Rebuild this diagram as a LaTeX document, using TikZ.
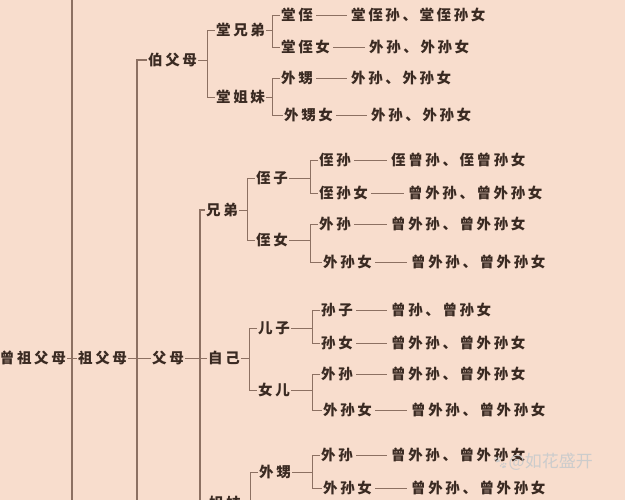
\documentclass[tikz,border=0pt]{standalone}
\usepackage{fontspec}
\newfontfamily\cjk[LetterSpace=18]{Noto Sans CJK SC}
\newfontfamily\markfont{Noto Sans CJK SC}
\newfontfamily\emojifont{Noto Emoji}
\usetikzlibrary{calc}

\definecolor{paper}{RGB}{248,221,205}
\definecolor{ink}{RGB}{58,42,34}
\definecolor{rule}{RGB}{140,112,98}

\tikzset{
  kin/.style={anchor=west,inner sep=1pt,text=ink,font=\cjk\bfseries\fontsize{14.5}{15}\selectfont},
  link/.style={draw=rule,line width=0.8pt},
  trunk/.style={draw=rule,line width=1.2pt},
  kinline/.style={draw=rule,line width=0.8pt,shorten <=2pt,shorten >=3pt},
}
% bracket from a parent to its two children
\newcommand\fork[3]{%
  \draw[link] (#2.west) -- ++(-8,0) coordinate (k) |- (#3.west);
  \draw[link] (#1.east) -- (#1.east -| k);}

\begin{document}
\begin{tikzpicture}[x=1pt,y=-1pt]
 \clip (0,0) rectangle (625,500);
 \fill[paper] (0,0) rectangle (625,500);

 % generations on the left
 \node[kin,anchor=east] (zzfm) at (67,358) {曾祖父母};
 \node[kin] (zfm) at (77,358)  {祖父母};
 \node[kin] (bfm) at (147,60)  {伯父母};
 \node[kin] (fm)  at (151,358) {父母};
 \node[kin] (xd)  at (205,210) {兄弟};
 \node[kin] (zj)  at (207,358) {自己};
 \node[kin] (jm)  at (208,503) {姐妹};

 % cousins
 \node[kin] (txd) at (215,30)  {堂兄弟};
 \node[kin] (tjm) at (215,97)  {堂姐妹};
 \node[kin] (tz)  at (280,15)  {堂侄};
 \node[kin] (tzn) at (280,47)  {堂侄女};
 \node[kin] (wsa) at (280,78)  {外甥};
 \node[kin] (wsna) at (283,115) {外甥女};

 % children of brothers, own children, children of sisters
 \node[kin] (zzi) at (255,178) {侄子};
 \node[kin] (znv) at (255,240) {侄女};
 \node[kin] (ez)  at (257,328) {儿子};
 \node[kin] (ne)  at (257,390) {女儿};
 \node[kin] (wsb) at (258,472) {外甥};

 % grandchildren
 \node[kin] (zs)   at (318,160) {侄孙};
 \node[kin] (zsn)  at (318,193) {侄孙女};
 \node[kin] (wsc)  at (318,224) {外孙};
 \node[kin] (wsnc) at (322,262) {外孙女};
 \node[kin] (sz)   at (320,310) {孙子};
 \node[kin] (sn)   at (320,343) {孙女};
 \node[kin] (wsd)  at (320,374) {外孙};
 \node[kin] (wsnd) at (322,410) {外孙女};
 \node[kin] (wse)  at (320,455) {外孙};
 \node[kin] (wsne) at (322,488) {外孙女};

 % next generation
 \node[kin] (r1)  at (350,15)  {堂侄孙、堂侄孙女};
 \node[kin] (r2)  at (368,47)  {外孙、外孙女};
 \node[kin] (r3)  at (350,78)  {外孙、外孙女};
 \node[kin] (r4)  at (370,115) {外孙、外孙女};
 \node[kin] (r5)  at (390,160) {侄曾孙、侄曾孙女};
 \node[kin] (r6)  at (407,193) {曾外孙、曾外孙女};
 \node[kin] (r7)  at (390,224) {曾外孙、曾外孙女};
 \node[kin] (r8)  at (410,262) {曾外孙、曾外孙女};
 \node[kin] (r9)  at (390,310) {曾孙、曾孙女};
 \node[kin] (r10) at (390,343) {曾外孙、曾外孙女};
 \node[kin] (r11) at (390,374) {曾外孙、曾外孙女};
 \node[kin] (r12) at (410,410) {曾外孙、曾外孙女};
 \node[kin] (r13) at (390,455) {曾外孙、曾外孙女};
 \node[kin] (r14) at (410,488) {曾外孙、曾外孙女};

 % long trunks
 \coordinate (ta) at (72,-5);
 \coordinate (tb) at (137,505);
 \coordinate (tc) at (200,505);
 \draw[trunk] (ta) -- (ta |- tb);
 \draw[link] (zzfm.east) -- (zzfm.east -| ta);
 \draw[link] (zfm.west) -- (zfm.west -| ta);
 \draw[trunk] (bfm.west) -- (bfm.west -| tb) -- (tb);
 \draw[link] (zfm.east) -- (zfm.east -| tb);
 \draw[link] (fm.west) -- (fm.west -| tb);
 \draw[trunk] (xd.west) -- (xd.west -| tc) -- (tc);
 \draw[link] (fm.east) -- (fm.east -| tc);
 \draw[link] (zj.west) -- (zj.west -| tc);
 \draw[link] (jm.west) -- (jm.west -| tc);

 % brackets
 \fork{bfm}{txd}{tjm}
 \fork{txd}{tz}{tzn}
 \fork{tjm}{wsa}{wsna}
 \fork{xd}{zzi}{znv}
 \fork{zzi}{zs}{zsn}
 \fork{znv}{wsc}{wsnc}
 \fork{zj}{ez}{ne}
 \fork{ez}{sz}{sn}
 \fork{ne}{wsd}{wsnd}
 \fork{wsb}{wse}{wsne}
 \draw[link] (wsb.west) -- ++(-8,0) coordinate (k) -- (k |- tc);
 \draw[link] (jm.east) -- (jm.east -| k);

 % dashes to the next generation
 \foreach \a/\b in {tz/r1,tzn/r2,wsa/r3,wsna/r4,zs/r5,zsn/r6,wsc/r7,wsnc/r8,
                    sz/r9,sn/r10,wsd/r11,wsnd/r12,wse/r13,wsne/r14}
   \draw[kinline] (\a.east) -- (\b.west);

 % watermark
 \node[anchor=west,inner sep=0pt,text=white!80!black,font=\markfont\fontsize{17}{18}\selectfont]
   (mark) at (492,462) {{\emojifont\fontsize{13}{14}\selectfont 🐾}@如花盛开};
\end{tikzpicture}
\end{document}
